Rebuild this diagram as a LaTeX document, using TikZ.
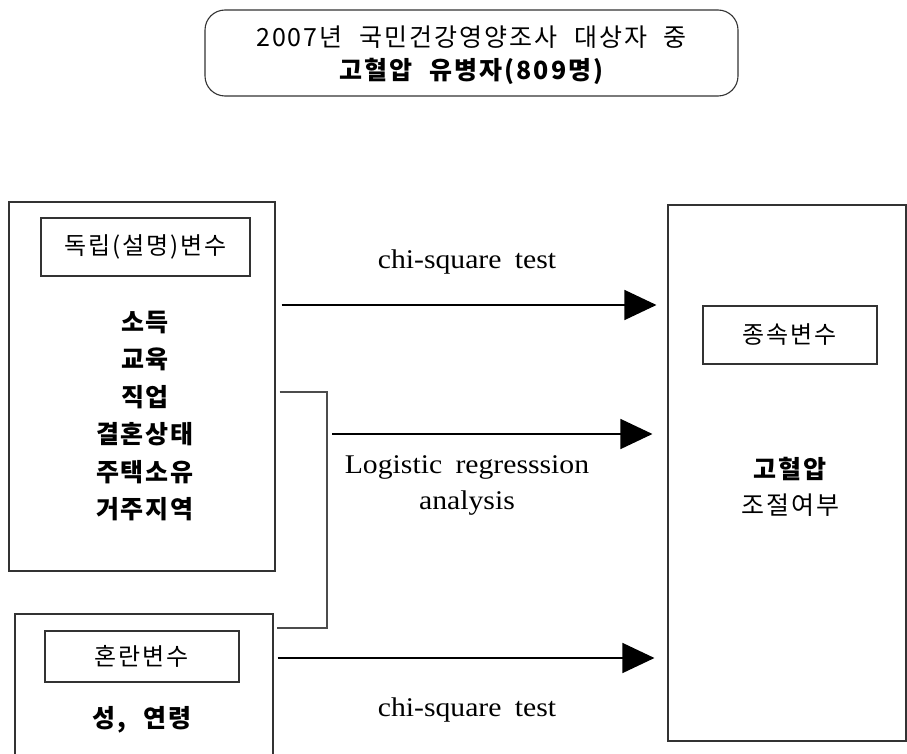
\documentclass[tikz,border=0pt]{standalone}
\usepackage{fontspec}
\setmainfont{Liberation Serif}
\newfontfamily\lat{Liberation Serif}[FakeStretch=1.1, WordSpace=1.8]
\newfontfamily\kr{Noto Sans CJK KR}[LetterSpace=8, WordSpace=2.2]
\usetikzlibrary{arrows.meta}
\definecolor{boxline}{HTML}{333333}
\tikzset{
  box/.style={draw=boxline, line width=1.1pt, inner sep=0pt, rectangle},
  lab/.style={box, font=\kr\fontsize{24}{28}\selectfont},
  krtext/.style={inner sep=0pt, align=center, font=\kr\fontsize{25}{28}\selectfont},
  krbold/.style={krtext, font=\kr\bfseries\fontsize{25}{28}\selectfont},
  lattext/.style={inner sep=0pt, align=center, font=\lat\fontsize{27}{36}\selectfont},
  arr/.style={line width=1.4pt, -{Triangle[length=32pt, width=30pt]}},
  bracket/.style={draw=black!70, line width=1.1pt}
}
\begin{document}
\begin{tikzpicture}[x=1pt, y=-1pt]
\useasboundingbox (0,0) rectangle (907,754);
% top box
\node[box, rounded corners=20pt, minimum width=533pt, minimum height=86pt] (top) at (471.5,53) {};
\node[krtext] (top1) at (471.5,37) {2007년 국민건강영양조사 대상자 중};
\node[krbold] (top2) at (471.5,71) {고혈압 유병자(809명)};
% left independent box
\node[box, minimum width=266pt, minimum height=369pt] (indep) at (142,386.5) {};
\node[lab, minimum width=209pt, minimum height=58pt] (indeplab) at (145.5,247) {독립(설명)변수};
\node[krbold, font=\kr\bfseries\fontsize{25}{37.5}\selectfont] (items) at (145,416) {소득\\교육\\직업\\결혼상태\\주택소유\\거주지역};
% confounder box
\node[box, minimum width=258pt, minimum height=160pt] (conf) at (144,694) {};
\node[lab, minimum width=194pt, minimum height=51pt] (conflab) at (142,656.5) {혼란변수};
\node[krbold] (confitems) at (142,720) {성, 연령};
% dependent box
\node[box, minimum width=238pt, minimum height=536pt] (dep) at (787,473) {};
\node[lab, minimum width=174pt, minimum height=58pt] (deplab) at (790,335) {종속변수};
\node[krbold] (dep1) at (790,469) {고혈압};
\node[krtext] (dep2) at (790,505) {조절여부};
% arrows
\draw[arr] ([xshift=6pt]indep.east |- 0,305) -- ([xshift=-11pt]dep.west |- 0,305);
\draw[arr] (332,434) -- ([xshift=-15pt]dep.west |- 0,434);
\draw[arr] ([xshift=4pt]conf.east |- 0,658) -- ([xshift=-13pt]dep.west |- 0,658);
% bracket
\draw[bracket] ([xshift=4pt]indep.east |- 0,392) -- (327,392) -- (327,628) -- ([xshift=3pt]conf.east |- 0,628);
% labels
\node[lattext] (chi1) at (467,262) {chi-square test};
\node[lattext] (logit) at (467,485) {Logistic regresssion\\analysis};
\node[lattext] (chi2) at (467,710) {chi-square test};
\end{tikzpicture}
\end{document}
